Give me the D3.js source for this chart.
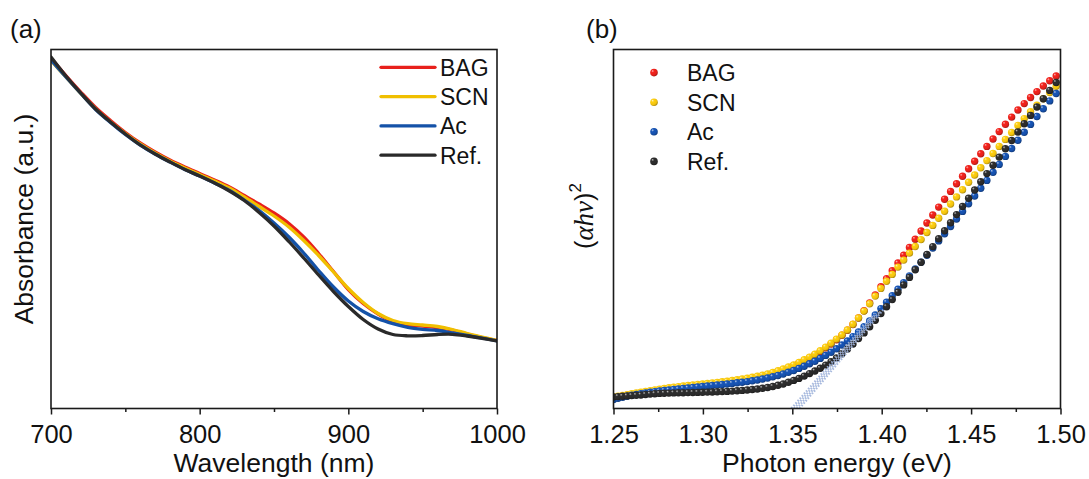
<!DOCTYPE html>
<html><head><meta charset="utf-8">
<script src="https://cdn.jsdelivr.net/npm/d3@7"></script>
<style>
body{margin:0;background:#fff}
svg{display:block}
text{font-family:"Liberation Sans",Arial,sans-serif;fill:#111}
</style>
</head><body>
<svg id="c" width="1089" height="479"></svg>
<script>
// ---------- DATA ----------
const seriesNames = ["BAG", "SCN", "Ac", "Ref."];
const lineColors = ["#e8201c", "#f0bf00", "#1452a8", "#2a2a2a"];
const dotColors = ["#e4211b", "#f1c20f", "#1650ab", "#2b2b2b"];

// Panel (a): absorbance (a.u.) vs wavelength (nm)
const absWavelength = [700,710,720,730,740,750,760,770,780,790,800,810,820,830,840,850,860,870,880,890,900,910,920,930,940,950,960,970,980,990,1000];
const absBAG = [3.505,3.33,3.165,3.01,2.88,2.76,2.655,2.565,2.485,2.415,2.35,2.285,2.215,2.13,2.045,1.955,1.85,1.715,1.55,1.37,1.19,1.05,0.945,0.868,0.835,0.825,0.81,0.785,0.745,0.71,0.68];
const absSCN = [3.48,3.315,3.15,2.995,2.865,2.75,2.645,2.555,2.475,2.405,2.34,2.275,2.205,2.115,2.02,1.925,1.815,1.68,1.53,1.365,1.20,1.06,0.95,0.88,0.848,0.835,0.82,0.79,0.75,0.715,0.68];
const absAc = [3.485,3.315,3.15,2.99,2.86,2.74,2.635,2.545,2.465,2.39,2.325,2.255,2.18,2.085,1.98,1.855,1.715,1.555,1.38,1.215,1.075,0.97,0.897,0.848,0.812,0.792,0.78,0.755,0.73,0.705,0.675];
const absRef = [3.515,3.325,3.155,2.995,2.865,2.745,2.635,2.545,2.465,2.39,2.325,2.255,2.175,2.08,1.96,1.825,1.67,1.505,1.335,1.17,1.02,0.89,0.795,0.74,0.727,0.73,0.74,0.742,0.725,0.702,0.675];

// Panel (b): Tauc plot, sampled every 2 nm
const taucWavelength = [992,990,988,986,984,982,980,978,976,974,972,970,968,966,964,962,960,958,956,954,952,950,948,946,944,942,940,938,936,934,932,930,928,926,924,922,920,918,916,914,912,910,908,906,904,902,900,898,896,894,892,890,888,886,884,882,880,878,876,874,872,870,868,866,864,862,860,858,856,854,852,850,848,846,844,842,840,838,836,834,832,830,828];
const taucBAG = [.110,.117,.125,.133,.141,.149,.156,.164,.171,.178,.185,.192,.198,.204,.210,.216,.222,.227,.232,.237,.242,.247,.253,.259,.265,.272,.279,.287,.295,.304,.315,.326,.338,.352,.369,.387,.407,.429,.453,.479,.506,.535,.569,.606,.645,.687,.732,.783,.840,.905,.977,1.055,1.135,1.217,1.298,1.377,1.455,1.532,1.611,1.693,1.775,1.855,1.935,2.014,2.093,2.171,2.247,2.322,2.397,2.472,2.547,2.621,2.695,2.769,2.842,2.914,2.985,3.049,3.110,3.169,3.225,3.277,3.325];
const taucSCN = [.115,.123,.131,.139,.147,.155,.163,.171,.179,.186,.194,.201,.207,.213,.219,.225,.231,.236,.241,.245,.250,.255,.261,.267,.273,.280,.287,.295,.303,.312,.323,.334,.346,.360,.377,.395,.415,.436,.461,.487,.514,.543,.577,.614,.653,.694,.735,.785,.842,.905,.974,1.047,1.124,1.201,1.272,1.341,1.414,1.484,1.554,1.620,1.689,1.760,1.831,1.902,1.973,2.045,2.116,2.188,2.262,2.335,2.407,2.479,2.550,2.621,2.691,2.761,2.831,2.899,2.967,3.032,3.097,3.160,3.222];
const taucAc = [.090,.102,.113,.123,.132,.141,.149,.156,.163,.169,.175,.180,.185,.190,.195,.200,.205,.210,.215,.220,.225,.230,.235,.240,.245,.251,.257,.263,.269,.277,.285,.295,.305,.317,.330,.345,.362,.380,.401,.423,.447,.473,.501,.531,.563,.597,.635,.675,.719,.766,.818,.875,.935,.999,1.062,1.127,1.192,1.259,1.326,1.395,1.463,1.532,1.604,1.676,1.747,1.820,1.894,1.971,2.048,2.125,2.202,2.281,2.362,2.441,2.521,2.600,2.682,2.762,2.841,2.920,2.998,3.076,3.150];
const taucRef = [.115,.119,.122,.126,.129,.132,.135,.140,.144,.148,.151,.153,.154,.156,.157,.158,.159,.160,.161,.162,.164,.165,.167,.169,.171,.174,.177,.181,.185,.190,.195,.202,.210,.220,.232,.245,.262,.281,.301,.324,.349,.375,.403,.434,.468,.506,.547,.594,.644,.699,.756,.817,.882,.949,1.018,1.089,1.162,1.236,1.311,1.387,1.463,1.540,1.619,1.698,1.777,1.858,1.939,2.021,2.103,2.185,2.267,2.349,2.432,2.514,2.597,2.680,2.765,2.848,2.931,3.015,3.098,3.181,3.260];

// Linear (Tauc) fits: [E start, value start, E end, value end]
const fitLines = [
  [1.3495, 0, 1.395, 0.93],
  [1.3510, 0, 1.397, 0.95],
  [1.3525, 0, 1.399, 0.97],
  [1.3540, 0, 1.401, 0.99]
];

const absMajorTicks = [700, 800, 900, 1000];
const absMinorTicks = [750, 850, 950];
const energyMajorTicks = [1.25, 1.30, 1.35, 1.40, 1.45, 1.50];
const energyMinorTicks = [1.275, 1.325, 1.375, 1.425, 1.475];

// ---------- DRAW ----------
const svg = d3.select("#c");
const defs = svg.append("defs");

const TICK_FS = 25.5, TITLE_FS = 26.5, LEG_FS = 23;
const FRAME = "#1a1a1a";

function drawXAxis(g, scale, y, major, minor, fmt) {
  const ax = g.append("g").attr("transform", `translate(0,${y})`)
    .call(d3.axisBottom(scale).tickValues(major).tickSize(6).tickPadding(10).tickFormat(fmt));
  ax.select(".domain").remove();
  ax.selectAll(".tick line").attr("stroke", FRAME).attr("stroke-width", 1.5);
  ax.selectAll(".tick text").attr("font-size", TICK_FS).attr("fill", "#111")
    .attr("font-family", '"Liberation Sans",Arial,sans-serif');
  const mx = g.append("g").attr("transform", `translate(0,${y})`)
    .call(d3.axisBottom(scale).tickValues(minor).tickSize(3.5).tickFormat(""));
  mx.select(".domain").remove();
  mx.selectAll(".tick line").attr("stroke", FRAME).attr("stroke-width", 1.5);
}

// ---- Panel (a) ----
const A = {l: 51, r: 497, t: 49.5, b: 408.5};
const xA = d3.scaleLinear().domain([700, 1000]).range([A.l, A.r]);
const yA = d3.scaleLinear().domain([0, 3.59]).range([A.b, A.t]);
const gA = svg.append("g");

defs.append("clipPath").attr("id", "clipA").append("rect")
  .attr("x", A.l).attr("y", A.t).attr("width", A.r - A.l).attr("height", A.b - A.t);

const absSeries = [absBAG, absSCN, absAc, absRef];
const lineA = d3.line().x(d => xA(d[0])).y(d => yA(d[1])).curve(d3.curveCatmullRom.alpha(0.5));
const plotA = gA.append("g").attr("clip-path", "url(#clipA)");
absSeries.forEach((vals, i) => {
  plotA.append("path")
    .datum(absWavelength.map((w, j) => [w, vals[j]]))
    .attr("d", lineA).attr("fill", "none")
    .attr("stroke", lineColors[i]).attr("stroke-width", 3.3)
    .attr("stroke-linejoin", "round").attr("stroke-linecap", "round");
});

gA.append("rect").attr("x", A.l).attr("y", A.t).attr("width", A.r - A.l).attr("height", A.b - A.t)
  .attr("fill", "none").attr("stroke", FRAME).attr("stroke-width", 1.6);
drawXAxis(gA, xA, A.b, absMajorTicks, absMinorTicks, d3.format("d"));

gA.append("text").attr("x", (A.l + A.r) / 2).attr("y", 472).attr("text-anchor", "middle")
  .attr("font-size", TITLE_FS).text("Wavelength (nm)");
gA.append("text").attr("transform", `translate(33,${219}) rotate(-90)`).attr("text-anchor", "middle")
  .attr("font-size", TITLE_FS).text("Absorbance (a.u.)");
gA.append("text").attr("x", 10).attr("y", 38).attr("font-size", 26).text("(a)");

// legend (a)
const legA = gA.append("g");
seriesNames.forEach((n, i) => {
  const y = 67.3 + i * 29.3;
  legA.append("line").attr("x1", 381).attr("x2", 435).attr("y1", y).attr("y2", y)
    .attr("stroke", lineColors[i]).attr("stroke-width", 3.3).attr("stroke-linecap", "round");
  legA.append("text").attr("x", 440).attr("y", y + 8.4).attr("font-size", LEG_FS).text(n);
});

// ---- Panel (b) ----
const B = {l: 613.5, r: 1060.5, t: 49.5, b: 408.5};
const xB = d3.scaleLinear().domain([1.25, 1.50]).range([B.l, B.r]);
const yB = d3.scaleLinear().domain([0, 3.59]).range([B.b, B.t]);
const gB = svg.append("g");

defs.append("clipPath").attr("id", "clipB").append("rect")
  .attr("x", B.l).attr("y", B.t).attr("width", B.r - B.l).attr("height", B.b - B.t);

dotColors.forEach((c, i) => {
  const col = d3.color(c);
  const gr = defs.append("radialGradient").attr("id", "dot" + i)
    .attr("cx", "40%").attr("cy", "38%").attr("r", "62%").attr("fx", "30%").attr("fy", "28%");
  gr.append("stop").attr("offset", "0%").attr("stop-color", d3.interpolateRgb(c, "#ffffff")(0.7));
  gr.append("stop").attr("offset", "30%").attr("stop-color", col.brighter(0.2).formatHex());
  gr.append("stop").attr("offset", "75%").attr("stop-color", c);
  gr.append("stop").attr("offset", "100%").attr("stop-color", col.darker(0.9).formatHex());
});

const taucEnergy = taucWavelength.map(w => 1240 / w);
const taucSeries = [taucBAG, taucSCN, taucAc, taucRef];
const plotB = gB.append("g").attr("clip-path", "url(#clipB)");
taucSeries.forEach((vals, i) => {
  plotB.append("g").selectAll("circle")
    .data(taucEnergy.map((e, j) => [e, vals[j]]))
    .join("circle")
    .attr("cx", d => xB(d[0])).attr("cy", d => yB(d[1])).attr("r", 3.7)
    .attr("fill", `url(#dot${i})`);
});
plotB.append("g").selectAll("line").data(fitLines).join("line")
  .attr("x1", d => xB(d[0])).attr("y1", d => yB(d[1]))
  .attr("x2", d => xB(d[2])).attr("y2", d => yB(d[3]))
  .attr("stroke", "#9fb3db").attr("stroke-width", 2.2)
  .attr("stroke-dasharray", "1.6,1.6").attr("opacity", 0.9);

gB.append("rect").attr("x", B.l).attr("y", B.t).attr("width", B.r - B.l).attr("height", B.b - B.t)
  .attr("fill", "none").attr("stroke", FRAME).attr("stroke-width", 1.6);
drawXAxis(gB, xB, B.b, energyMajorTicks, energyMinorTicks, d3.format(".2f"));

gB.append("text").attr("x", (B.l + B.r) / 2).attr("y", 472).attr("text-anchor", "middle")
  .attr("font-size", TITLE_FS).text("Photon energy (eV)");
const yt = gB.append("text").attr("transform", `translate(593,${216}) rotate(-90)`)
  .attr("text-anchor", "middle").attr("font-size", 25);
yt.append("tspan").text("(");
yt.append("tspan").attr("font-family", '"Liberation Serif","Times New Roman",serif')
  .attr("font-style", "italic").attr("font-size", 27).text("αhν");
yt.append("tspan").text(")");
yt.append("tspan").attr("font-size", 17).attr("dy", -12).text("2");
gB.append("text").attr("x", 586).attr("y", 38).attr("font-size", 26).text("(b)");

// legend (b)
const legB = gB.append("g");
seriesNames.forEach((n, i) => {
  const y = 72.6 + i * 29.6;
  legB.append("circle").attr("cx", 654).attr("cy", y).attr("r", 3.8).attr("fill", `url(#dot${i})`);
  legB.append("text").attr("x", 687).attr("y", y + 8.4).attr("font-size", LEG_FS).text(n);
});
</script>
</body></html>
